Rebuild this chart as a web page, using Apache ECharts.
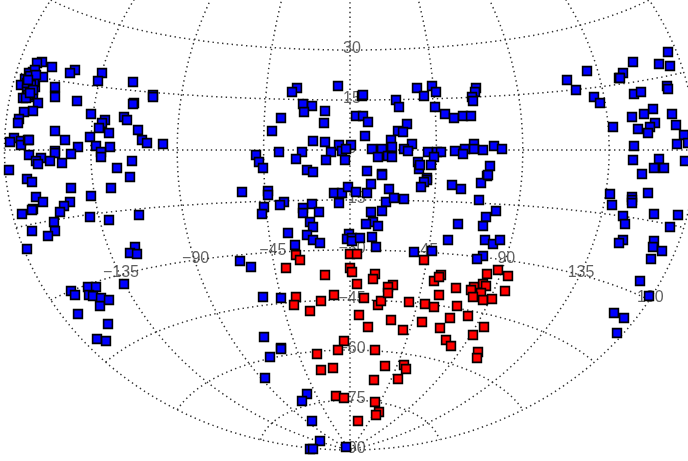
<!DOCTYPE html>
<html><head><meta charset="utf-8">
<style>html,body{margin:0;padding:0;background:#fff}#c{width:688px;height:461px}</style>
<script src="https://cdn.jsdelivr.net/npm/echarts@6/dist/echarts.min.js"></script>
</head><body><div id="c"></div>
<script>
// Sources, in map-plane units
const blueSources = [
[42,62],[37,63],[52,67],[75,70],[70,73],[43,77],[102,73],[98,81],[133,82],[153,95],[153,97],
[33,72],[29,73],[35,70],[25,79],[32,78],[21,85],[35,87],[28,87],[27,90],[33,97],[28,95],[23,98],[26,98],[38,103],
[30,76],[34,82],[31,85],[27,83],[33,90],[30,93],[36,75],[28,80],
[55,87],[55,97],[77,101],[134,103],[133,104],[33,111],[24,112],[19,119],[18,123],[91,114],[105,120],[102,123],[99,128],[109,133],
[124,117],[127,120],[138,130],[142,140],[147,143],[163,144],[55,131],[65,140],[90,137],[96,146],[110,147],[101,152],[101,157],[78,147],[71,154],
[14,138],[10,142],[21,141],[21,145],[28,140],[29,140],[55,151],[55,153],[29,155],[41,158],[36,161],[38,164],[50,161],[62,163],[132,161],[117,168],[9,170],
[27,179],[32,182],[71,188],[111,188],[91,196],[130,177],[36,197],[43,202],[70,202],[64,206],[60,212],[33,209],[32,210],[22,214],[54,222],[55,231],[32,231],[48,236],
[90,217],[109,220],[139,215],[27,249],[135,247],[130,253],[137,254],[124,284],[71,291],[75,295],[88,287],[96,287],[89,295],[93,296],[101,298],[100,306],[109,300],[78,314],[108,324],[97,339],[106,341],
[297,88],[292,92],[338,86],[303,104],[312,106],[304,112],[325,111],[281,118],[356,116],[324,123],[272,131],[313,141],[325,142],[339,145],[351,145],[256,155],[259,162],[263,168],[279,152],[302,152],[296,159],[331,152],[342,151],[346,149],[326,160],[345,160],[307,170],[313,172],
[362,96],[363,95],[417,88],[432,86],[436,92],[424,96],[396,100],[399,107],[476,88],[475,92],[472,97],[473,101],[435,107],[445,114],[454,118],[463,116],[471,116],[363,116],[368,122],[407,124],[398,131],[403,132],[365,136],[391,140],[412,144],[392,147],[372,149],[382,149],[404,149],[408,151],[428,152],[437,152],[441,152],[434,157],[388,156],[392,157],[378,157],[455,151],[465,149],[463,154],[474,144],[474,149],[483,150],[494,146],[502,149],[418,162],[419,169],[420,165],[431,165],[490,166],[487,176],[367,171],[382,174],[427,178],
[242,192],[268,191],[268,195],[264,207],[262,214],[284,202],[280,205],[312,204],[319,212],[303,208],[303,213],[334,193],[342,193],[348,187],[356,192],[367,193],[371,184],[339,203],[310,222],[313,227],[288,233],[307,235],[313,240],[320,243],[295,245],[371,212],[373,222],[366,224],[378,226],[349,234],[347,239],[352,238],[352,241],[360,238],[372,237],[376,247],[240,261],[251,267],
[382,175],[389,189],[427,180],[424,182],[421,187],[452,185],[461,189],[481,183],[488,175],[479,200],[386,202],[394,198],[404,199],[382,211],[496,211],[486,217],[483,226],[458,224],[448,240],[485,240],[493,244],[500,240],[414,252],[432,251],[483,256],[477,259],
[263,297],[281,298],[264,337],[281,348],[281,349],[270,357],[265,378],[307,394],[302,401],[312,421],[320,441],[310,449],[313,449],[346,447],
[567,80],[587,71],[576,90],[594,97],[600,103],[633,62],[623,73],[619,78],[620,78],[668,52],[659,64],[670,66],[667,86],[668,89],[634,94],[641,92],[653,109],[644,114],[632,117],[672,114],[655,123],[650,127],[648,133],[638,129],[613,127],[676,125],[684,135],[677,144],[634,146],[633,160],[659,159],[685,161],[654,168],[664,168],[688,143],
[642,174],[610,194],[612,205],[632,197],[632,200],[632,203],[648,193],[623,216],[625,224],[654,214],[678,215],[670,227],[623,240],[619,243],[654,241],[653,247],[662,251],[651,259],[640,281],[649,296],[614,313],[624,318],[617,333]
];
const redSources = [
[296,255],[300,260],[286,268],[350,254],[357,254],[325,275],[350,268],[352,272],[375,274],[373,279],[357,284],[296,297],[294,305],[310,311],[321,301],[334,295],[364,298],[378,305],[381,301],[359,315],[368,327],[344,341],[338,350],[317,354],[375,350],
[424,260],[393,285],[388,287],[388,293],[409,302],[434,281],[441,275],[439,277],[456,288],[439,295],[425,304],[434,307],[457,306],[468,316],[450,318],[422,322],[391,320],[403,330],[440,328],[484,327],[473,335],[446,340],[451,346],[478,352],[477,358],
[498,270],[508,276],[487,274],[505,291],[483,284],[474,287],[471,290],[486,286],[481,293],[473,297],[483,300],[492,299],
[321,370],[333,368],[385,366],[404,365],[406,369],[398,379],[374,380],[336,396],[344,398],[375,402],[379,412],[376,415],[358,421]
];
const meridians = [-180,-135,-90,-45,0,45,90,135,180];
const parallels = [-75,-60,-45,-30,-15,0,15,30];
const latLabels = [[30,'30'],[15,'15'],[0,'0'],[-15,'−15'],[-30,'−30'],[-45,'−45'],[-60,'−60'],[-75,'−75'],[-90,'−90']];
const lonLabels = [[-135,'−135'],[-90,'−90'],[-45,'−45'],[45,'45'],[90,'90'],[135,'135'],[180,'180']];
const labelLat = -30;

// Stretched Aitoff projection onto the map plane
const CX=350, CY=150, KX=110, KY=191;
function project(lon,lat){
  const l=lon*Math.PI/360, p=lat*Math.PI/180;
  const a=Math.acos(Math.cos(p)*Math.cos(l));
  const s=a<1e-6?1:Math.sin(a)/a;
  return [CX+KX*2*Math.cos(p)*Math.sin(l)/s, CY-KY*Math.sin(p)/s];
}
function steps(a,b,n){const r=[];for(let i=0;i<=n;i++)r.push(a+(b-a)*i/n);return r;}
const lineStyle={color:'#333',width:1.5,type:[1.4,3.4],cap:'butt'};
const gridSeries=[];
meridians.forEach(m=>gridSeries.push({type:'line',showSymbol:false,silent:true,animation:false,z:1,lineStyle,
  data:steps(-90,90,90).map(t=>project(m,t))}));
parallels.forEach(p=>gridSeries.push({type:'line',showSymbol:false,silent:true,animation:false,z:1,lineStyle,
  data:steps(-180,180,120).map(t=>project(t,p))}));

const textStyle={show:true,position:'inside',color:'#3a3a3a',fontFamily:'Liberation Sans',fontSize:16,fontWeight:'normal',formatter:p=>p.name};
const labelSeries={type:'scatter',symbolSize:1,itemStyle:{color:'transparent'},silent:true,animation:false,z:2,
  label:textStyle,
  data:latLabels.map(([lat,t])=>{const q=project(0,lat);return {name:t,value:[q[0]+2,q[1]-1]};})
   .concat(lonLabels.map(([lon,t])=>{const q=project(lon,labelLat);return {name:t,value:[q[0]+1,q[1]-2]};}))};

const mark=c=>({type:'scatter',symbol:'rect',symbolSize:8.8,animation:false,z:3,
  itemStyle:{color:c,opacity:1,borderColor:'#000',borderWidth:1.6}});

const chart=echarts.init(document.getElementById('c'),null,{renderer:'canvas'});
chart.setOption({
  animation:false,backgroundColor:'#fff',
  grid:{left:0,right:0,top:0,bottom:0},
  xAxis:{type:'value',min:0,max:688,show:false},
  yAxis:{type:'value',min:0,max:461,inverse:true,show:false},
  series:[...gridSeries,labelSeries,
    Object.assign(mark('#0000ff'),{name:'blue',data:blueSources}),
    Object.assign(mark('#ff0000'),{name:'red',data:redSources})]
});
</script></body></html>
